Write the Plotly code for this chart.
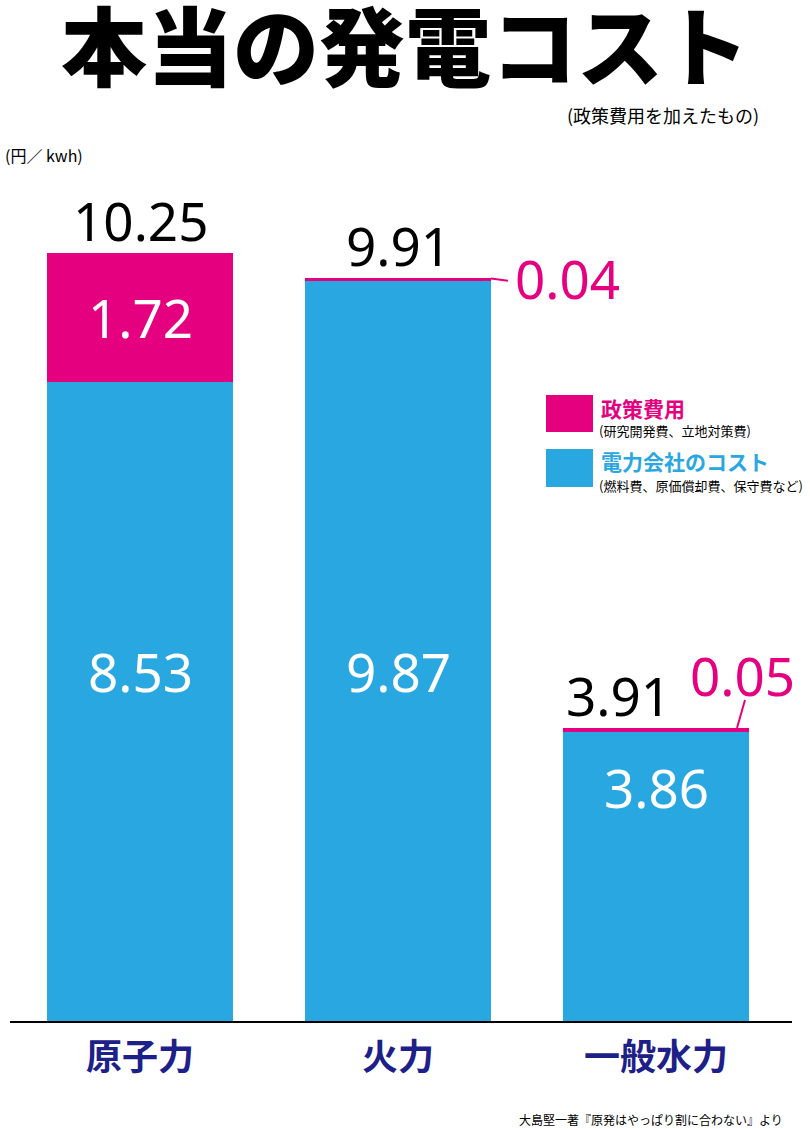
import plotly.graph_objects as go

# ---- data ----
categories = ["原子力", "火力", "一般水力"]
company_cost = [8.53, 9.87, 3.86]   # 電力会社のコスト
policy_cost = [1.72, 0.04, 0.05]    # 政策費用
totals = [10.25, 9.91, 3.91]

BLUE = "#29A7E1"
MAGENTA = "#E4007F"
NAVY = "#1D2088"
CJK = "Noto Sans CJK JP"
NUM = "Noto Sans"

W, H = 810, 1129
L, R, T, B = 10, 18, 170, 108
X0, X1 = 10, 792
Y0, Y1 = 170, 1021

def px(x, y):
    return (x - X0) / (X1 - X0), (Y1 - y) / (Y1 - Y0)

xrange_ = [-(140 - 10) / 258, 2 + (792 - 656) / 258]
yrange_ = [0, (1021 - 170) / 74.93]
bw = 186 / 258
half = bw / 2

fig = go.Figure()
fig.add_trace(go.Bar(x=list(range(3)), y=company_cost, marker_color=BLUE,
                     width=bw, name="電力会社のコスト", marker_line_width=0))
fig.add_trace(go.Bar(x=list(range(3)), y=policy_cost, marker_color=MAGENTA,
                     width=bw, name="政策費用", marker_line_width=0))

ann = []
# totals
tot_xshift = [0, 0, -38]
for i, t in enumerate(totals):
    ann.append(dict(x=i, y=t, xref="x", yref="y", text=f"{t:.2f}", showarrow=False,
                    yanchor="bottom", yshift=-6, xshift=tot_xshift[i],
                    font=dict(family=NUM, size=53, color="black")))
# inside company labels
inside_y = [4.66, 4.66, 3.12]
for i, v in enumerate(company_cost):
    ann.append(dict(x=i, y=inside_y[i], xref="x", yref="y", text=f"{v:.2f}", showarrow=False,
                    font=dict(family=NUM, size=53, color="white")))
# policy label inside first bar
ann.append(dict(x=0, y=company_cost[0] + policy_cost[0] / 2, xref="x", yref="y",
                text=f"{policy_cost[0]:.2f}", showarrow=False,
                font=dict(family=NUM, size=53, color="white")))
# small policy labels outside
ann.append(dict(x=1 + half, y=totals[1], xref="x", yref="y", text=f"{policy_cost[1]:.2f}",
                showarrow=False, xanchor="left", xshift=22, yshift=0,
                font=dict(family=NUM, size=53, color=MAGENTA)))
ann.append(dict(x=2 + half, y=totals[2], xref="x", yref="y", text=f"{policy_cost[2]:.2f}",
                showarrow=False, xanchor="center", xshift=-7, yshift=53,
                font=dict(family=NUM, size=53, color=MAGENTA)))

# texts in paper coords
def ptext(x, y, text, size, color="black", xanchor="left", weight="normal", family=CJK):
    xp, yp = px(x, y)
    ann.append(dict(x=xp, y=yp, xref="paper", yref="paper", text=text, showarrow=False,
                    xanchor=xanchor, yanchor="middle",
                    font=dict(family=family, size=size, color=color, weight=weight)))

ptext(663, 115, "(政策費用を加えたもの)", 18, xanchor="center")
ptext(3, 155, "(円／ kwh)", 16)
ptext(785, 1119, "大島堅一著『原発はやっぱり割に合わない』より", 12, xanchor="right")
ptext(599, 408, "政策費用", 21, color=MAGENTA, weight="bold")
ptext(597, 430, "(研究開発費、立地対策費)", 13)
ptext(599, 461, "電力会社のコスト", 21, color=BLUE, weight="bold")
ptext(597, 485, "(燃料費、原価償却費、保守費など)", 13)

shapes = []
for (ya, yb, c) in [(395, 432, MAGENTA), (449, 487, BLUE)]:
    xa, yap = px(546, ya)
    xb, ybp = px(593, yb)
    shapes.append(dict(type="rect", xref="paper", yref="paper", x0=xa, x1=xb,
                       y0=ybp, y1=yap, fillcolor=c, line_width=0))
# leader lines
shapes.append(dict(type="line", xref="x", yref="y", x0=1 + half, y0=totals[1],
                   x1=1 + (508 - 398) / 258, y1=totals[1] - 0.03,
                   line=dict(color=MAGENTA, width=2)))
shapes.append(dict(type="line", xref="x", yref="y", x0=2 + (737 - 656) / 258, y0=totals[2],
                   x1=2 + (745 - 656) / 258, y1=(1021 - 700) / 74.93,
                   line=dict(color=MAGENTA, width=2)))

fig.update_layout(
    width=W, height=H, barmode="stack", showlegend=False,
    paper_bgcolor="white", plot_bgcolor="white",
    margin=dict(l=L, r=R, t=T, b=B),
    title=dict(text="本当の発電コスト", x=0.5, xanchor="center", y=1 - 50 / H, yanchor="middle",
               font=dict(family=CJK, size=86, color="black", weight=900)),
    annotations=ann, shapes=shapes,
    xaxis=dict(range=xrange_, tickmode="array", tickvals=list(range(3)), ticktext=categories,
               showgrid=False, zeroline=False, showline=True, linecolor="black", linewidth=2,
               ticks="", ticklabelstandoff=4,
               tickfont=dict(family=CJK, size=36, color=NAVY, weight="bold")),
    yaxis=dict(range=yrange_, visible=False, showgrid=False, zeroline=False),
)
fig.write_html("out.html", config={"displayModeBar": False},
               post_script="document.body.style.margin='0';document.body.style.overflow='hidden';")
